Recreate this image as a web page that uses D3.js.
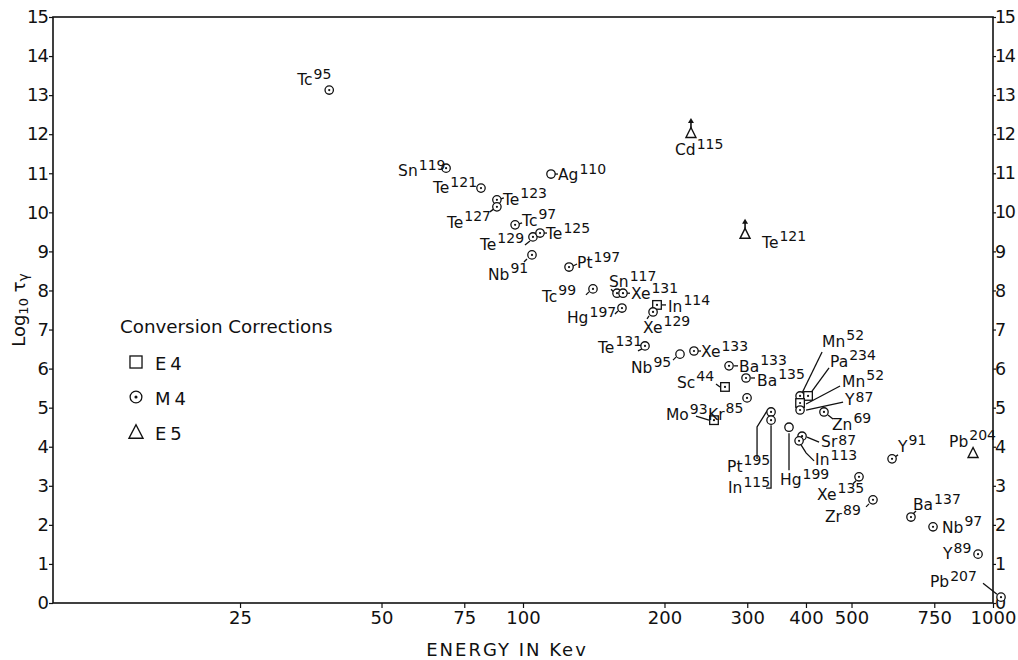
<!DOCTYPE html>
<html><head><meta charset="utf-8">
<script src="https://cdn.jsdelivr.net/npm/d3@7"></script>
<style>
body{margin:0;background:#fff;}
svg{display:block;font-family:"DejaVu Sans",sans-serif;}
</style></head>
<body><svg id="c" width="1018" height="660"></svg>
<script>
// ---- data ----
const isotopes = ["Tc","Sn","Te","Te","Te","Tc","Te","Te","Nb","Ag","Pt","Tc","Sn","Xe","Hg","In","Xe","Te","Nb","Xe","Ba","Ba","Sc","Mo","Kr","Pt","In","Hg","Mn","Pa","Mn","Y","Zn","Sr","In","Y","Pb","Xe","Zr","Ba","Nb","Y","Pb","Cd","Te"];
const massNumbers = ["95","119","121","123","127","97","129","125","91","110","197","99","117","131","197","114","129","131","95","133","133","135","44","93","85","195","115","199","52","234","52","87","69","87","113","91","204","135","89","137","97","89","207","115","121"];
const energyKeV = [38.7,68.6,81.4,88.0,88.0,96.2,105.0,108.7,104.5,114.7,125.3,140.9,158.5,163.2,162.4,192.8,189.1,181.8,215.8,231.1,274.4,298.2,269.0,254.9,299.7,337.1,337.1,368.1,388.6,404.1,388.6,388.6,436.9,392.4,386.7,609.8,906.9,518.7,555.5,669.1,745.4,929.3,1040,227.7,296.8];
const log10Tau = [13.13,11.13,10.62,10.32,10.14,9.68,9.37,9.47,8.91,10.98,8.60,8.04,7.93,7.93,7.55,7.63,7.45,6.58,6.37,6.45,6.07,5.76,5.53,4.68,5.25,4.89,4.68,4.50,5.30,5.30,5.12,4.94,4.89,4.27,4.15,3.69,3.84,3.23,2.64,2.20,1.95,1.25,0.15,12.03,9.45];
const correction = ["M4","M4","M4","M4","M4","M4","M4","M4","M4","O","M4","M4","M4","M4","M4","E4","M4","M4","O","M4","M4","M4","E4","E4","M4","M4","M4","O","M4","E4","E4","M4","M4","M4","M4","M4","E5","M4","M4","M4","M4","M4","M4","E5","E5"];
const lowerLimit = isotopes.map((d,i)=> i>=43);
const xTickValues = [25,50,75,100,200,300,400,500,750,1000];
const yTickValues = [0,1,2,3,4,5,6,7,8,9,10,11,12,13,14,15];
const legendItems = ["E4","M4","E5"];

// ---- label layout (pixel offsets from each point; optional 4th = superscript raise) ----
const labelLayout = [
 [-32,-5,null],[-48,8,null],[-48,5,null],[6,5,[[4,-1],[7,-2]]],[-50,21,[[-7,5],[-3,2]]],
 [7,1,[[4,-1],[7,-2]]],[-53,13,[[-8,8],[-3,4]]],[6,6,[[4,0],[7,0]]],[-44,25,[[-8,7],[-5,4]]],[7,6,[[4,0],[7,0]]],
 [8,1,[[4,-1],[8,-3]]],[-51,13,[[-7,6],[-4,3]]],[-8,-6,[[-6,-4],[-3,-1]]],[8,6,[[4,0],[7,0]]],[-55,15,[[-7,6],[-4,3]]],
 [11,7,[[5,0],[9,0]]],[-10,21,[[-6,7],[-4,4]]],[-47,7,[[-7,5],[-3,3]]],[-49,19,[[-7,6],[-4,3]]],[7,6,[[4,0],[7,0]]],
 [10,6,[[5,0],[9,0]]],[11,8,[[5,0],[9,0]]],[-48,1,[[-9,-3],[-5,0]]],[-48,0,[[-18,-4],[-5,0]]],[-39,22,null],
 [-44,60,[[-14,47],[-14,15],[-4,-1]]],[-43,73,[[-5,68],[0,68],[0,5]]],[-9,58,[[0,6],[0,43]]],[22,-49,[[22,-44],[2,-3]]],[22,-29,[[21,-28],[2,-2]]],
 [42,-16,[[40,-17],[6,1]]],[45,-5,[[43,-8],[6,0]],3],[8,18,[[4,3],[9,7]]],[19,11,[[5,1],[17,6]],2],[16,24,[[2,4],[7,12],[15,20]],4.5],
 [6,-7,[[3,-2],[6,-4]]],[-24,-6,null],[-42,23,[[-6,7],[-3,4]]],[-48,22,[[-7,7],[-4,4]]],[2,-7,[[2,-3],[5,-6]]],
 [9,6,null],[-35,5,null],[-71,-10,[[-18,-14],[-4,-3]]],[-16,22,null],[17,14,null]
];

const points = isotopes.map((el,i)=>({el, A:massNumbers[i], E:energyKeV[i], v:log10Tau[i], t:correction[i], lim:lowerLimit[i], lay:labelLayout[i]}));

const svg = d3.select("#c");
const x = d3.scaleLog().domain([10,1000]).range([53,993]);
const y = d3.scaleLinear().domain([0,15]).range([603,17]);
const ink = "#111";

// frame
svg.append("rect").attr("x",53).attr("y",17).attr("width",940).attr("height",586)
  .attr("fill","none").attr("stroke",ink).attr("stroke-width",1.6);

// axes
const styleAxis = (fs,ls) => g => { g.select(".domain").remove(); g.selectAll("line").attr("stroke",ink).attr("stroke-width",1.2);
  g.selectAll("text").attr("fill",ink).attr("font-size",fs).attr("letter-spacing",ls).attr("font-family","DejaVu Sans"); };
svg.append("g").attr("transform","translate(0,603)")
  .call(d3.axisBottom(x).tickValues(xTickValues).tickFormat(d3.format("d")).tickSize(5).tickPadding(3)).call(styleAxis(18,0));
svg.append("g").attr("transform","translate(53,0)")
  .call(d3.axisLeft(y).tickValues(yTickValues).tickFormat(d3.format("d")).tickSize(4).tickPadding(1)).call(styleAxis(18,-1));
svg.append("g").attr("transform","translate(993,0)")
  .call(d3.axisRight(y).tickValues(yTickValues).tickFormat(d3.format("d")).tickSize(3).tickPadding(-1)).call(styleAxis(17.5,-1.5));

// axis titles
svg.append("text").attr("x",507).attr("y",656).attr("text-anchor","middle").attr("font-size",18)
  .attr("letter-spacing",2).attr("fill",ink).text("ENERGY IN Kev");
const yt = svg.append("text").attr("transform","translate(25,310) rotate(-90)").attr("text-anchor","middle")
  .attr("font-size",18).attr("fill",ink);
yt.append("tspan").text("Log");
yt.append("tspan").attr("font-size",13).attr("dy",3).text("10");
yt.append("tspan").attr("dy",-3).text(" τ");
yt.append("tspan").attr("font-size",14).attr("dy",3).text("γ");

// marker drawing
function marker(g, t, s){
  s = s||1;
  if(t==="M4"||t==="O"){
    g.append("circle").attr("r",4.2*s).attr("fill","#fff").attr("stroke",ink).attr("stroke-width",1.3);
    if(t==="M4") g.append("circle").attr("r",1.1*s).attr("fill",ink);
  } else if(t==="E4"){
    g.append("rect").attr("x",-4.3*s).attr("y",-4.3*s).attr("width",8.6*s).attr("height",8.6*s)
      .attr("fill","#fff").attr("stroke",ink).attr("stroke-width",1.3);
    if(s===1) g.append("circle").attr("r",1.1).attr("fill",ink);
  } else if(t==="E5"){
    const h=9*s, w=10*s;
    g.append("path").attr("d",`M0,${-h/2-1}L${w/2},${h/2}L${-w/2},${h/2}Z`)
      .attr("fill","#fff").attr("stroke",ink).attr("stroke-width",1.4);
  }
}

// leaders
const lineGen = d3.line();
const pg = svg.append("g");
points.forEach(p=>{
  const px=x(p.E), py=y(p.v);
  if(p.lay[2]) pg.append("path").attr("d",lineGen(p.lay[2].map(o=>[px+o[0],py+o[1]])))
    .attr("fill","none").attr("stroke",ink).attr("stroke-width",1.3);
});

// points
points.forEach(p=>{
  const px=x(p.E), py=y(p.v);
  const g = pg.append("g").attr("transform",`translate(${px},${py})`);
  if(p.lim){
    g.append("line").attr("x1",0).attr("x2",0).attr("y1",-5).attr("y2",-12).attr("stroke",ink).attr("stroke-width",1.6);
    g.append("path").attr("d","M0,-15L3,-10L-3,-10Z").attr("fill",ink);
  }
  marker(g,p.t);
  const raise = p.lay[3]!==undefined ? p.lay[3] : 6.5;
  const tx = pg.append("text").attr("x",px+p.lay[0]).attr("y",py+p.lay[1]).attr("font-size",15.5).attr("fill",ink);
  tx.append("tspan").text(p.el);
  tx.append("tspan").attr("dx",1).attr("dy",-raise).attr("font-size",14).text(p.A);
});

// legend
svg.append("text").attr("x",120).attr("y",333).attr("font-size",18.3).attr("fill",ink).text("Conversion Corrections");
legendItems.forEach((t,i)=>{
  const cy = 362 + i*35;
  const g = svg.append("g").attr("transform",`translate(136,${cy})`);
  marker(g,t,1.4);
  svg.append("text").attr("x",155).attr("y",cy+7.5).attr("font-size",18).attr("letter-spacing",4).attr("fill",ink).text(t);
});
</script></body></html>
